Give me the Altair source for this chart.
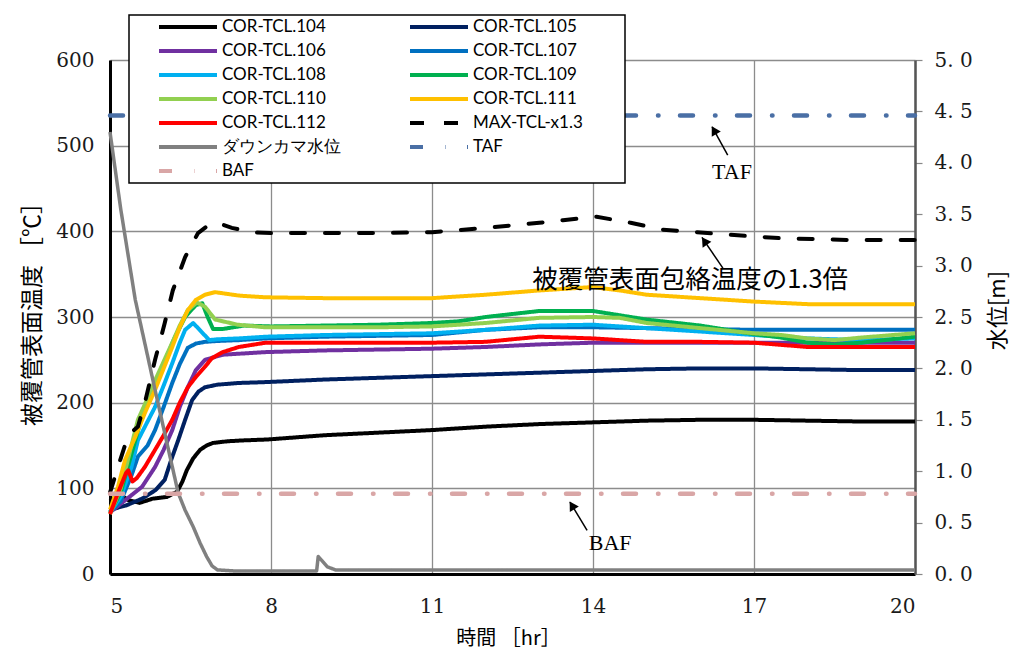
import altair as alt
import pandas as pd

# ---------------- legend order / names ----------------
NAMES = ["COR-TCL.104", "COR-TCL.105", "COR-TCL.106", "COR-TCL.107",
         "COR-TCL.108", "COR-TCL.109", "COR-TCL.110", "COR-TCL.111",
         "COR-TCL.112", "MAX-TCL-x1.3", "ダウンカマ水位", "TAF", "BAF"]

# ---------------- temperature series (°C) ----------------
T104 = [5.0, 5.1, 5.2, 5.35, 5.55, 5.8, 6.06, 6.25, 6.35, 6.43, 6.55, 6.68, 6.8, 6.92, 7.2, 7.5, 7.93, 9, 10, 11, 12, 13, 14, 15, 16, 17, 18, 19, 20]
V104 = [85, 90, 92, 86, 83, 88, 90, 96, 108, 121, 135, 145, 150, 153, 155, 156, 157, 162, 165, 168, 172, 175, 177, 179, 180, 180, 179, 178, 178]

T105 = [5.0, 5.3, 5.6, 5.85, 6.02, 6.15, 6.27, 6.4, 6.53, 6.65, 6.77, 7.0, 7.4, 7.9, 9, 10, 11, 12, 13, 14, 15, 16, 17, 18, 19, 20]
V105 = [75, 80, 88, 98, 110, 135, 156, 180, 203, 213, 218, 221, 223, 224, 227, 229, 231, 233, 235, 237, 239, 240, 240, 239, 238, 238]

T106 = [5.0, 5.2, 5.4, 5.6, 5.84, 6.0, 6.16, 6.3, 6.45, 6.6, 6.77, 7.1, 7.9, 9, 10, 11, 12, 13, 14, 15, 16, 17, 18, 19, 20]
V106 = [72, 82, 92, 102, 125, 145, 168, 195, 218, 238, 250, 256, 259, 261, 262, 263, 265, 268, 270, 270, 270, 270, 270, 270, 270]

T107 = [5.0, 5.2, 5.4, 5.52, 5.7, 5.84, 6.0, 6.16, 6.3, 6.45, 6.6, 6.77, 7.0, 7.4, 7.9, 9, 10, 11, 12, 13, 14, 15, 16, 17, 18, 19, 20]
V107 = [72, 85, 115, 137, 150, 168, 195, 223, 245, 264, 269, 271, 272, 273, 275, 277, 278, 279, 285, 288, 288, 287, 286, 285, 285, 285, 285]

T108 = [5.0, 5.2, 5.4, 5.52, 5.7, 5.84, 6.0, 6.16, 6.3, 6.4, 6.55, 6.7, 6.85, 7.0, 7.4, 7.9, 9, 10, 11, 12, 13, 14, 15, 16, 17, 18, 19, 20]
V108 = [72, 90, 125, 156, 178, 195, 220, 246, 270, 285, 293, 283, 273, 274, 275, 277, 279, 280, 281, 285, 290, 291, 287, 283, 279, 275, 273, 275]

T109 = [5.0, 5.2, 5.4, 5.6, 5.8, 6.0, 6.2, 6.4, 6.6, 6.72, 6.82, 6.92, 7.1, 7.5, 8, 9, 10, 11, 11.5, 12, 13, 14, 14.5, 15, 16, 17, 17.5, 18, 18.5, 19, 20]
V109 = [72, 95, 140, 185, 215, 245, 275, 300, 314, 316, 300, 286, 286, 290, 289, 290, 291, 293, 295, 300, 307, 307, 302, 297, 290, 280, 276, 270, 268, 270, 277]

T110 = [5.0, 5.2, 5.4, 5.52, 5.7, 5.84, 6.0, 6.16, 6.3, 6.45, 6.62, 6.77, 6.96, 7.38, 7.89, 9, 10, 11, 12, 13, 14, 14.5, 15, 16, 17, 17.5, 18, 18.5, 19, 20]
V110 = [70, 100, 150, 180, 205, 226, 248, 270, 290, 308, 317, 312, 297, 291, 288, 288, 288, 289, 293, 299, 300, 299, 293, 287, 281, 279, 275, 273, 276, 281]

T111 = [5.0, 5.15, 5.28, 5.47, 5.65, 5.84, 6.0, 6.16, 6.3, 6.45, 6.6, 6.77, 6.96, 7.4, 7.89, 9, 10, 11, 12, 13, 14, 14.5, 15, 16, 17, 18, 19, 20]
V111 = [75, 102, 133, 160, 188, 215, 240, 265, 288, 308, 320, 326, 329, 325, 323, 322, 322, 322, 326, 331, 335, 331, 326, 322, 318, 315, 315, 315]

T112 = [5.0, 5.15, 5.3, 5.34, 5.42, 5.5, 5.65, 5.84, 6.0, 6.16, 6.3, 6.45, 6.6, 6.77, 6.9, 7.1, 7.4, 7.9, 9, 10, 11, 12, 13, 14, 15, 16, 17, 18, 19, 20]
V112 = [70, 95, 118, 121, 108, 112, 125, 145, 162, 180, 200, 218, 230, 242, 252, 259, 265, 270, 270, 270, 270, 271, 277, 275, 271, 271, 270, 265, 265, 265]

TMAX = [5.0, 5.1, 5.19, 5.34, 5.52, 5.65, 5.84, 6.02, 6.17, 6.4, 6.64, 6.85, 7.0, 7.27, 7.65, 8, 9, 10, 11, 12, 13, 13.44, 14.07, 14.7, 15.3, 15.94, 16.55, 17.48, 18.73, 20]
VMAX = [95, 115, 133, 162, 172, 200, 250, 293, 331, 370, 398, 408, 410, 404, 399, 398, 398, 398, 399, 404, 410, 413, 417, 410, 402, 399, 396, 392, 390, 390]

# ---------------- water level series (m) ----------------
TDC = [5.0, 5.2, 5.47, 5.84, 6.05, 6.27, 6.4, 6.55, 6.68, 6.8, 6.9, 7.0, 7.3, 8.85, 8.88, 8.95, 9.05, 9.2, 20]
VDC = [4.3, 3.55, 2.67, 1.79, 1.3, 0.79, 0.62, 0.46, 0.3, 0.17, 0.08, 0.04, 0.03, 0.03, 0.17, 0.13, 0.07, 0.04, 0.04]
TTAF = [5, 20]
VTAF = [4.46, 4.46]
TBAF = [5, 20]
VBAF = [0.78, 0.78]

# ---------------- annotations (data units, left axis) ----------------
ANN_SERIF_TEXT = ["TAF", "BAF"]
ANN_SERIF_T = [16.59, 14.32]
ANN_SERIF_V = [469, 36]
ANN_CJK_TEXT = ["被覆管表面包絡温度の1.3倍"]
ANN_CJK_T = [15.81]
ANN_CJK_V = [343]
ARROW_TAIL_T = [16.51, 13.89, 16.42]
ARROW_TAIL_V = [489, 51, 357]
ARROW_TIP_T = [16.22, 13.57, 16.03]
ARROW_TIP_V = [522, 84, 393]
ARROW_ANGLE = [330, 329, 326]

X_TICKS = [5, 8, 11, 14, 17, 20]
Y_TICKS = [0, 100, 200, 300, 400, 500, 600]
Y2_TICKS = [0, 0.5, 1.0, 1.5, 2.0, 2.5, 3.0, 3.5, 4.0, 4.5, 5.0]

# ---------------- styles ----------------
COLORS = ["#000000", "#002060", "#7030A0", "#0070C0", "#00B0F0", "#00B050",
          "#92D050", "#FFC000", "#FF0000", "#000000", "#808080", "#4A6FA5", "#D9A6A6"]
SOLID = [1, 0]
DASHDOT = [13, 22, 0.5, 21.5]
DASHES = [SOLID] * 9 + [[14, 20], SOLID, DASHDOT, DASHDOT]
NUM_FONT = "DejaVu Serif"
CJK_FONT = "Noto Sans CJK JP"

# ---------------- data frames ----------------
temp_series = [(NAMES[0], T104, V104), (NAMES[1], T105, V105), (NAMES[2], T106, V106),
               (NAMES[3], T107, V107), (NAMES[4], T108, V108), (NAMES[5], T109, V109),
               (NAMES[6], T110, V110), (NAMES[7], T111, V111), (NAMES[8], T112, V112)]
rows = []
for n, ts, vs in temp_series:
    for t, v in zip(ts, vs):
        rows.append({"series": n, "t": t, "v": v})
df_temp = pd.DataFrame(rows)
df_max = pd.DataFrame({"series": NAMES[9], "t": TMAX, "v": VMAX})
df_dc = pd.DataFrame({"series": NAMES[10], "t": TDC, "v": VDC})
df_lv = pd.concat([pd.DataFrame({"series": NAMES[11], "t": TTAF, "v": VTAF}),
                   pd.DataFrame({"series": NAMES[12], "t": TBAF, "v": VBAF})])

df_ann_serif = pd.DataFrame({"label": ANN_SERIF_TEXT, "t": ANN_SERIF_T, "v": ANN_SERIF_V})
df_ann_cjk = pd.DataFrame({"label": ANN_CJK_TEXT, "t": ANN_CJK_T, "v": ANN_CJK_V})
df_arrow = pd.DataFrame({"t": ARROW_TAIL_T, "v": ARROW_TAIL_V,
                         "t2": ARROW_TIP_T, "v2": ARROW_TIP_V, "ang": ARROW_ANGLE})
df_arrow["ht"] = df_arrow["t2"] + 0.12 * (df_arrow["t"] - df_arrow["t2"])
df_arrow["hv"] = df_arrow["v2"] + 0.12 * (df_arrow["v"] - df_arrow["v2"])

# ---------------- encodings ----------------
legend = alt.Legend(
    title=None, orient="none", legendX=47, legendY=-43, columns=2, direction="horizontal",
    symbolType="stroke", symbolSize=3364, symbolStrokeWidth=4,
    labelFont="Lato", labelFontSize=17, labelColor="black", labelOffset=3,
    columnPadding=67, rowPadding=4, clipHeight=20, padding=0, zindex=1,
)
color = alt.Color("series:N", scale=alt.Scale(domain=NAMES, range=COLORS), legend=legend)
dash = alt.StrokeDash("series:N", scale=alt.Scale(domain=NAMES, range=DASHES), legend=legend)

x_enc = alt.X("t:Q", scale=alt.Scale(domain=[5, 20], nice=False, zero=False),
              axis=alt.Axis(values=X_TICKS, title="時間 ［hr］", grid=True, ticks=False,
                            domainColor="black", domainWidth=3, labelPadding=22,
                            labelFont=NUM_FONT, labelFontSize=20,
                            titleX=398, titleY=64, titleBaseline="middle",
                            titleFontSize=20, titleFont=CJK_FONT))
y_left = alt.Y("v:Q", scale=alt.Scale(domain=[0, 600], nice=False),
               axis=alt.Axis(values=Y_TICKS, title="被覆管表面温度 ［℃］", grid=True, ticks=False,
                             domainColor="black", domainWidth=3, labelPadding=16,
                             labelFont=NUM_FONT, labelFontSize=20,
                             titleX=-78, titleY=248, titleAngle=270, titleBaseline="middle",
                             titleAlign="center", titleFontSize=23, titleFont=CJK_FONT))
y_right = alt.Y("v:Q", scale=alt.Scale(domain=[0, 5], nice=False),
                axis=alt.Axis(orient="right", values=Y2_TICKS, title="水位[m]", grid=False,
                              ticks=True, tickSize=7, tickColor="#888888", tickWidth=1.2,
                              domainColor="#555555", domainWidth=2.5, labelPadding=12,
                              labelFont=NUM_FONT, labelFontSize=20,
                              labelExpr="replace(format(datum.value, '.1f'), '.', '. ')",
                              titleX=82, titleY=250, titleAngle=270, titleBaseline="middle",
                              titleAlign="center", titleFontSize=22, titleFont=CJK_FONT))

temps = alt.Chart(df_temp).mark_line(strokeWidth=4, strokeJoin="round").encode(
    x=x_enc, y=y_left, color=color, strokeDash=dash, order="t:Q")
maxl = alt.Chart(df_max).mark_line(strokeWidth=4, strokeCap="round").encode(
    x=x_enc, y=y_left, color=color, strokeDash=dash)
arrows = alt.Chart(df_arrow).mark_rule(color="black", strokeWidth=1.5).encode(
    x=x_enc, y=y_left, x2="t2:Q", y2="v2:Q")
heads = alt.Chart(df_arrow).mark_point(shape="triangle-up", filled=True, size=110,
                                       color="black", opacity=1).encode(
    x=alt.X("ht:Q"), y=alt.Y("hv:Q"), angle=alt.Angle("ang:Q", scale=None))
txt_serif = alt.Chart(df_ann_serif).mark_text(font="Liberation Serif", fontSize=22,
                                              color="black").encode(
    x=x_enc, y=y_left, text="label:N")
txt_cjk = alt.Chart(df_ann_cjk).mark_text(font=CJK_FONT, fontSize=25.5,
                                          color="black").encode(
    x=x_enc, y=y_left, text="label:N")

left = alt.layer(temps, maxl, arrows, heads, txt_serif, txt_cjk)

dc = alt.Chart(df_dc).mark_line(strokeWidth=3.5, strokeJoin="round").encode(
    x=x_enc, y=y_right, color=color, strokeDash=dash)
lv = alt.Chart(df_lv).mark_line(strokeWidth=4.5, strokeCap="round").encode(
    x=x_enc, y=y_right, color=color, strokeDash=dash)
right = alt.layer(dc, lv)

frame = alt.Chart(pd.DataFrame({"k": [0]})).mark_rect(
    fill="white", stroke="black", strokeWidth=1.5).encode(
    x=alt.value(19), x2=alt.value(515), y=alt.value(-45), y2=alt.value(123))

chart = alt.layer(left, right, frame).resolve_scale(y="independent").properties(
    width=805, height=514, autosize="none",
    padding={"left": 102, "top": 52, "right": 97, "bottom": 77},
).configure_view(stroke=None).configure_axis(
    gridColor="#8c8c8c", gridWidth=1.3, labelFont=NUM_FONT, labelFontSize=20,
    labelColor="#1a1a1a", titleColor="black", titleFontWeight="normal",
)

chart.save("out.html", embed_options={"renderer": "svg", "actions": False})
